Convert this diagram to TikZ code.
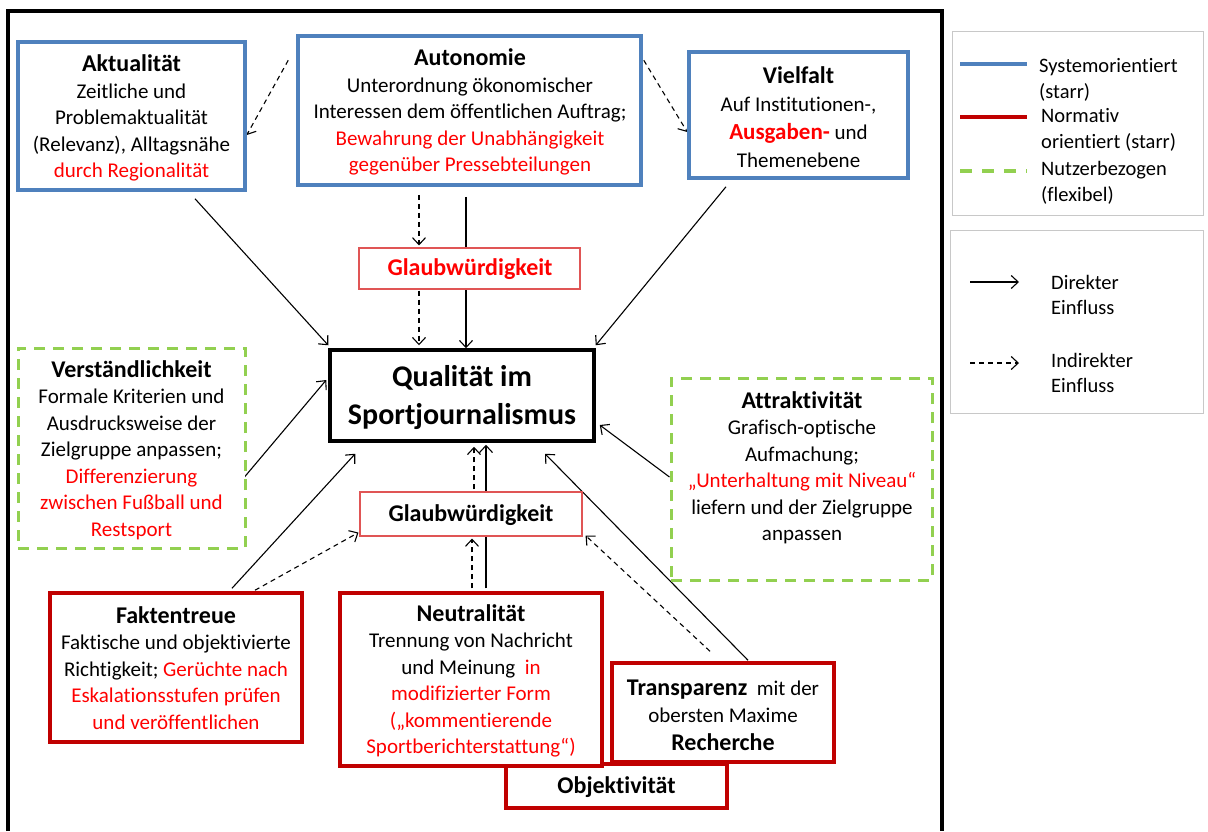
\documentclass[tikz,border=0pt]{standalone}
\usepackage{fontspec}
\setmainfont{Carlito}[Ligatures={NoCommon,NoContextual}, RawFeature={-clig;-calt;-dlig}]
\usetikzlibrary{arrows.meta,calc}

\definecolor{sysblue}{HTML}{4F81BD}
\definecolor{normred}{HTML}{C00000}
\definecolor{usergreen}{HTML}{92D050}
\definecolor{hl}{HTML}{FF0000}
\definecolor{glbred}{HTML}{E05555}
\definecolor{legendgray}{HTML}{C8C8C8}

\pgfdeclarelayer{bg}
\pgfsetlayers{bg,main}

\newcommand\ttl[1]{{\fontsize{24}{26.5}\selectfont\bfseries #1}}
\newcommand\red[1]{\textcolor{hl}{#1}}

\tikzset{
  x=1pt, y=-1pt,
  body/.style={font=\fontsize{21}{26.5}\selectfont, align=center, inner sep=0pt},
  legtext/.style={font=\fontsize{20.5}{25.5}\selectfont, align=left, inner sep=0pt, anchor=west},
  sysbox/.style={draw=sysblue, line width=3.5pt, fill=white, inner sep=0pt},
  normbox/.style={draw=normred, line width=3.5pt, fill=white, inner sep=0pt},
  userbox/.style={draw=usergreen, line width=3pt, dash pattern=on 11pt off 8pt, fill=white, inner sep=0pt},
  glbbox/.style={draw=glbred, line width=1.1pt, fill=white, inner sep=0pt},
  corebox/.style={draw=black, line width=3.5pt, fill=white, inner sep=0pt},
  legbox/.style={draw=legendgray, line width=0.8pt, fill=white, inner sep=0pt},
  direct/.style={line width=1.1pt, -{Straight Barb[length=7pt,width=13pt,line width=1.1pt]}},
  indirect/.style={direct, dash pattern=on 5pt off 4pt},
}

\begin{document}
\begin{tikzpicture}
\useasboundingbox (0,0) rectangle (1208,831);

% outer frame of the main area
\draw[line width=4pt] (8,831) -- (8,11) -- (942,11) -- (942,831);

% ---------- boxes ----------
\node[sysbox, minimum width=227pt, minimum height=148pt] (akt) at (131.5,116) {};
\node[sysbox, minimum width=343pt, minimum height=149pt] (auto) at (469.5,110.5) {};
\node[sysbox, minimum width=219pt, minimum height=126pt] (viel) at (798.5,115) {};
\node[glbbox, minimum width=221pt, minimum height=41pt] (glbA) at (469.5,268.5) {};
\node[corebox, minimum width=264pt, minimum height=91pt] (qual) at (462,395.5) {};
\node[userbox, minimum width=227pt, minimum height=200pt] (vers) at (131.5,448) {};
\node[userbox, minimum width=261pt, minimum height=202pt] (attr) at (801.5,479) {};
\node[glbbox, minimum width=222pt, minimum height=44pt] (glbB) at (471,514) {};
\node[normbox, minimum width=252pt, minimum height=149pt] (fakt) at (176,667.5) {};
\node[normbox, minimum width=221pt, minimum height=44pt] (obj) at (616.5,786) {};
\node[normbox, minimum width=262pt, minimum height=173pt] (neut) at (471,679.5) {};
\node[normbox, minimum width=222pt, minimum height=99pt] (trans) at (723,712.5) {};
\node[legbox, minimum width=251pt, minimum height=184pt] (legA) at (1077.5,123) {};
\node[legbox, minimum width=253pt, minimum height=183pt] (legB) at (1076.5,321.5) {};

% ---------- box texts ----------
\node[body] (aktT) at (131.5,118) {\ttl{Aktualität}\\Zeitliche und\\Problemaktualität\\(Relevanz), Alltagsnähe\\\red{durch Regionalität}};
\node[body] (autoT) at (470,112) {\ttl{Autonomie}\\Unterordnung ökonomischer\\Interessen dem öffentlichen Auftrag;\\\red{Bewahrung der Unabhängigkeit}\\\red{gegenüber Pressebteilungen}};
\node[body, font=\fontsize{21}{28}\selectfont] (vielT) at (798.5,117) {\ttl{Vielfalt}\\Auf Institutionen-,\\{\fontsize{23}{28}\selectfont\bfseries\red{Ausgaben-}} und\\Themenebene};
\node[body] (glbAT) at (470,269) {\textcolor{hl}{\ttl{Glaubwürdigkeit}}};
\node[body, font=\fontsize{30}{38}\selectfont\bfseries] (qualT) at (462,398) {Qualität im\\Sportjournalismus};
\node[body] (versT) at (131.5,450) {\ttl{Verständlichkeit}\\Formale Kriterien und\\Ausdrucksweise der\\Zielgruppe anpassen;\\\red{Differenzierung}\\\red{zwischen Fußball und}\\\red{Restsport}};
\node[body] (attrT) at (802,468) {\ttl{Attraktivität}\\Grafisch-optische\\Aufmachung;\\\red{„Unterhaltung mit Niveau“}\\liefern und der Zielgruppe\\anpassen};
\node[body] (glbBT) at (471,515) {\ttl{Glaubwürdigkeit}};
\node[body] (faktT) at (176,668) {\ttl{Faktentreue}\\Faktische und objektivierte\\Richtigkeit; \red{Gerüchte nach}\\\red{Eskalationsstufen prüfen}\\\red{und veröffentlichen}};
\node[body] (neutT) at (471,681) {\ttl{Neutralität}\\Trennung von Nachricht\\und Meinung~ \red{in}\\\red{modifizierter Form}\\\red{(„kommentierende}\\\red{Sportberichterstattung“)}};
\node[body, font=\fontsize{21}{27.5}\selectfont] (transT) at (723,715) {\ttl{Transparenz}~ mit der\\obersten Maxime\\\ttl{Recherche}};
\node[body] (objT) at (616.5,787) {\ttl{Objektivität}};

% ---------- legend ----------
\coordinate (kA1) at (960,64);   \coordinate (kA2) at (1027,64);
\coordinate (kB1) at (960,117);  \coordinate (kB2) at (1027,117);
\coordinate (kC1) at (960,171);  \coordinate (kC2) at (1027,171);
\draw[sysblue, line width=4pt] (kA1) -- (kA2);
\draw[normred, line width=4pt] (kB1) -- (kB2);
\draw[usergreen, line width=4pt, dash pattern=on 12pt off 10pt] (kC1) -- (kC2);
\node[legtext] (lsys) at (1039,80) {Systemorientiert\\(starr)};
\node[legtext] (lnorm) at (1041,130) {Normativ\\orientiert (starr)};
\node[legtext] (luser) at (1041,183) {Nutzerbezogen\\(flexibel)};

\coordinate (kD1) at (970,282);  \coordinate (kD2) at (1019,282);
\coordinate (kE1) at (970,363);  \coordinate (kE2) at (1019,363);
\draw[direct] (kD1) -- (kD2);
\draw[indirect] (kE1) -- (kE2);
\node[legtext] (ldir) at (1051,295) {Direkter\\Einfluss};
\node[legtext] (lind) at (1051,373) {Indirekter\\Einfluss};

% ---------- connectors ----------
\begin{pgfonlayer}{bg}
% from Autonomie
\draw[indirect] ($(auto.north west)+(-8,26)$) -- ($(akt.east)+(0,19)$);
\draw[indirect] ($(auto.north east)+(1,26)$) -- ($(viel.west)+(0,17)$);
\draw[indirect] ($(auto.south)+(-50.5,8)$) -- ($(glbA.north)+(-50.5,-2)$);
\draw[direct]   ($(auto.south)+(-3.5,10)$) -- ($(qual.north)+(4,0)$);
\draw[indirect] ($(glbA.south)+(-50.5,1)$) -- ($(qual.north)+(-43,-3)$);
% upper row into the core
\draw[direct] ($(akt.south)+(63.5,7)$) -- ($(qual.north west)+(0,-3)$);
\draw[direct] ($(viel.south)+(-72.5,7)$) -- ($(qual.north east)+(0,-3)$);
% user related criteria
\draw[direct] ($(vers.east)+(-2,29)$) -- ($(qual.west)+(-2,-15.5)$);
\draw[direct] ($(attr.west)+(0,-2)$) -- ($(qual.east)+(4,29.5)$);
% normative criteria
\draw[direct]   ($(fakt.north)+(56,-3)$) -- ($(qual.south west)+(27,11)$);
\draw[indirect] ($(fakt.north)+(79,-1)$) -- ($(glbB.south west)+(-1,-4)$);
\draw[direct]   ($(neut.north)+(15,-3)$) -- ($(qual.south)+(24,2)$);
\draw[indirect] ($(neut.north)+(1,-3)$) -- ($(glbB.south)+(1,2)$);
\draw[indirect] ($(glbB.north)+(3,-2)$) -- ($(qual.south)+(12,4)$);
\draw[direct]   ($(trans.north)+(25,-1)$) -- ($(qual.south)+(83,11)$);
\draw[indirect] ($(trans.north)+(-13,-10)$) -- ($(glbB.south east)+(3,-1)$);
\end{pgfonlayer}
\end{tikzpicture}
\end{document}
